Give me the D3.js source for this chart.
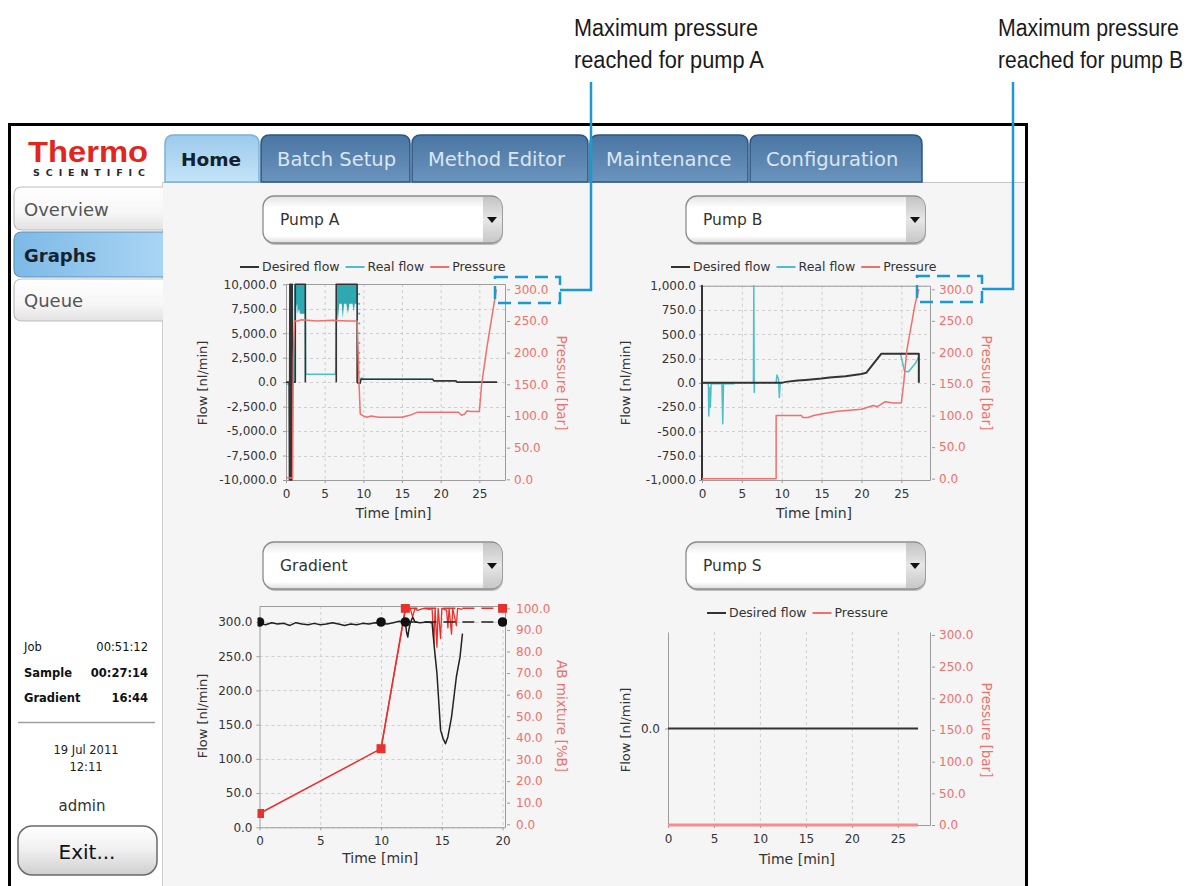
<!DOCTYPE html>
<html>
<head>
<meta charset="utf-8">
<script src="https://cdn.jsdelivr.net/npm/d3@7"></script>
<style>
html, body { margin: 0; padding: 0; background: #fff; }
svg { display: block; font-family: "DejaVu Sans", "Noto Sans", sans-serif; }
</style>
</head>
<body>
<svg id="chart" width="1188" height="886"></svg>
<script>
const svg = d3.select("#chart");
const defs = svg.append("defs");

// ---- texts of the screen ----
const tabNames = ["Home", "Batch Setup", "Method Editor", "Maintenance", "Configuration"];
const navItems = ["Overview", "Graphs", "Queue"];
const statusRows = [["Job", "00:51:12"], ["Sample", "00:27:14"], ["Gradient", "16:44"]];
const dateLines = ["19 Jul 2011", "12:11"];
const userName = "admin";
const exitLabel = "Exit...";
const dropdownNames = ["Pump A", "Pump B", "Gradient", "Pump S"];
const noteA = ["Maximum pressure", "reached for pump A"];
const noteB = ["Maximum pressure", "reached for pump B"];

// ---- tick values ----
const flowTicksA = [-10000, -7500, -5000, -2500, 0, 2500, 5000, 7500, 10000];
const flowTicksB = [-1000, -750, -500, -250, 0, 250, 500, 750, 1000];
const flowTicksS = [0];
const pressureTicks = [0, 50, 100, 150, 200, 250, 300];
const gradFlowTicks = [0, 50, 100, 150, 200, 250, 300];
const gradMixTicks = [0, 10, 20, 30, 40, 50, 60, 70, 80, 90, 100];
const timeTicksPump = [0, 5, 10, 15, 20, 25];
const timeTicksGrad = [0, 5, 10, 15, 20];

// ---- Pump A [time min, value] ----
const pumpADesired = [[0, 0], [0.4, 0], [0.45, -10000], [0.5, 10000], [0.55, -10000], [0.6, 10000],
  [0.65, -10000], [0.7, 10000], [0.75, -10000], [0.8, 10000], [0.85, 0], [1.2, 0], [1.2, 10000],
  [2.5, 10000], [2.5, 0], null, [6.5, 0], [6.5, 10000], [9.2, 10000], [9.2, 0], [9.3, -100],
  [9.6, -100], [9.7, 300], [19, 300], [19.1, 130], [22, 130], [22.1, 0], [27.3, 0]];
const pumpAReal = [[0, -200], [0.4, -200], [0.45, 0], [1.1, 0], [1.15, 10000], null,
  [2.5, 7000], [2.55, 800], [6.4, 800], [6.45, 1700], [6.55, 10000], null,
  [9.5, 300], [9.8, 420], [10.2, 300], [19, 300]];
const pumpARealBlock1 = [[1.15, 7000], [1.3, 7000], [1.35, 7800], [1.45, 8000], [1.5, 7000],
  [1.7, 7500], [1.8, 7000], [2.5, 7000]];
const pumpARealBlock2 = [[6.55, 8000], [6.7, 6200], [6.9, 8000], [7.2, 8000], [7.35, 6500],
  [7.5, 8000], [7.8, 8000], [8.0, 7000], [8.2, 8000], [8.6, 8000], [8.75, 7200], [8.9, 8000], [9.2, 8000]];
const pumpARealDots = [[9.45, 9000], [9.45, 8000], [9.46, 7000], [9.47, 6000], [9.47, 5000],
  [9.48, 4000], [9.48, 3000], [9.49, 2000], [9.5, 1000]];
const pumpAPressure = [[0, 3], [0.5, 2], [0.85, 2], [0.95, 190], [1.1, 250], [1.5, 250], [2, 252],
  [4, 250], [6, 251], [8, 250], [9.2, 250], [9.3, 212], [9.45, 150], [9.6, 103], [10, 100],
  [10.5, 98], [11, 100], [12, 98], [13, 98], [14, 98], [15, 98], [16, 101], [17, 106], [18, 106],
  [20, 106], [22.3, 106], [22.7, 101], [23.1, 103], [23.4, 108], [24, 107], [25, 107], [25.3, 150],
  [26, 210], [26.6, 255], [27.2, 300]];

// ---- Pump B ----
const pumpBDesired = [[0, -1000], [0, 1000], [0, 0], [10, 0], [10.5, 10], [12, 24], [13, 30],
  [15, 45], [16, 55], [18, 68], [20, 92], [20.6, 103], [22.5, 300], [27.2, 300], [27.2, 0]];
const pumpBReal = [[0, 0], [0.8, -10], [0.85, -340], [0.95, -50], [1.05, -250], [1.15, -10],
  [2.5, -10], [2.6, -420], [2.7, -10], [4.1, -10], null, [6.45, 0], [6.5, 1000], [6.55, -100],
  [6.6, 0], null, [9.3, 0], [9.4, 80], [9.6, 40], [9.7, -150], [9.8, 0], [10, 0], null,
  [24.9, 300], [25.4, 120], [25.9, 115], [26.8, 205], [27.2, 270]];
const pumpBPressure = [[0, 0], [9.3, 0], [9.3, 100], [12.5, 100], [12.6, 97], [13.3, 97], [14, 100],
  [15.5, 103.5], [17, 107], [20, 110], [21.5, 116], [22, 114], [23, 122], [24, 120], [25, 120],
  [25.3, 151], [25.7, 204], [26.3, 246], [26.7, 275], [27.2, 300]];

// ---- Gradient ----
const gradFlowProgram = [[0, 300], [10, 300], [12, 300], [20, 300]];
const gradMixProgram = [[0, 5], [10, 35], [12, 100], [20, 100]];
const gradFlowActual = [[0, 298], [0.5, 296], [1, 299], [1.5, 297], [2, 298], [2.5, 295], [3, 299],
  [3.5, 297], [4, 296], [4.5, 298], [5, 296], [5.5, 297], [6, 299], [6.5, 297], [7, 295], [7.5, 297],
  [8, 296], [8.5, 298], [9, 297], [9.5, 299], [10, 298], [10.5, 297], [11, 299], [11.5, 301],
  [12, 299], [12.1, 285], [12.2, 278], [12.3, 290], [12.4, 298], [12.6, 307], [12.8, 300],
  [13.2, 299], [13.8, 300], [14.2, 299], [14.4, 260], [14.6, 225], [14.9, 142], [15.1, 130],
  [15.3, 122], [15.5, 132], [15.8, 161], [16.2, 220], [16.5, 249], [16.7, 283]];
const gradMixActual = [[10, 35], [12, 99], [12.4, 100], [12.6, 96], [12.8, 100], [13, 99],
  [13.5, 100], [14, 99.5], [14.2, 100], [14.35, 84], [14.45, 100], [14.6, 82], [14.7, 100],
  [14.9, 86], [15, 100], [15.4, 99], [15.5, 91], [15.6, 100], [15.8, 88], [15.9, 100],
  [16.2, 92], [16.3, 100], [16.7, 99.5]];

// ---- Pump S ----
const pumpSDesired = [[0, 0], [27.2, 0]];
const pumpSPressure = [[0, 0], [27.2, 0]];

const fmt = d3.formatLocale({ decimal: ".", thousands: ",", grouping: [3], currency: ["", ""], minus: "-" });
const f1 = fmt.format(",.1f");

const C = {
  black: "#333333",
  cyan: "#4cbfcb",
  teal: "#2ea8b3",
  red: "#f0706b",
  redStrong: "#e8302c",
  tick: "#333333",
  grid: "#cfcfcf",
  blue: "#1b9ad2"
};

function gradient(id, stops, vertical = true) {
  const g = defs.append("linearGradient").attr("id", id)
    .attr("x1", 0).attr("y1", 0).attr("x2", vertical ? 0 : 1).attr("y2", vertical ? 1 : 0);
  stops.forEach(s => g.append("stop").attr("offset", s[0]).attr("stop-color", s[1]));
}
gradient("tabDark", [[0, "#4a76a3"], [1, "#6b94bd"]]);
gradient("tabHome", [[0, "#9ccbec"], [1, "#c4e3f8"]]);
gradient("navBtn", [[0, "#ffffff"], [0.6, "#f6f6f6"], [1, "#e2e2e2"]]);
gradient("navSel", [[0, "#7db9e6"], [1, "#a9d5f4"]], false);
gradient("ddFill", [[0, "#e4e4e4"], [0.25, "#ffffff"], [0.85, "#ffffff"], [1, "#dcdcdc"]]);
gradient("ddKnob", [[0, "#c4c4c4"], [0.5, "#e6e6e6"], [1, "#c8c8c8"]]);
gradient("exitFill", [[0, "#ffffff"], [0.5, "#efefef"], [1, "#cfcfcf"]]);

// ---- frame and panels ----
svg.append("rect").attr("x", 0).attr("y", 0).attr("width", 1188).attr("height", 886).attr("fill", "#fff");
svg.append("rect").attr("x", 162).attr("y", 182).attr("width", 863).attr("height", 704).attr("fill", "#f5f5f5");
svg.append("line").attr("x1", 162).attr("x2", 1025).attr("y1", 182.5).attr("y2", 182.5).attr("stroke", "#c4c4c4");
svg.append("line").attr("x1", 162.5).attr("x2", 162.5).attr("y1", 182).attr("y2", 886).attr("stroke", "#cfcfcf");
svg.append("path").attr("d", "M9.5,886 V124.5 H1026.5 V886")
  .attr("fill", "none").attr("stroke", "#000").attr("stroke-width", 3);

// ---- logo ----
svg.append("text").attr("x", 28).attr("y", 162).text("Thermo")
  .attr("font-family", "Liberation Sans, Arial, sans-serif").attr("font-weight", "bold")
  .attr("font-size", 30).attr("fill", "#e3261d").attr("textLength", 120).attr("lengthAdjust", "spacingAndGlyphs");
svg.append("text").attr("x", 33).attr("y", 176).text("SCIENTIFIC")
  .attr("font-family", "DejaVu Sans, sans-serif").attr("font-weight", "bold")
  .attr("font-size", 9.5).attr("fill", "#2a2a2a").attr("textLength", 112).attr("lengthAdjust", "spacing");

// ---- tabs ----
const tabSpans = [[165, 259], [261, 410], [412, 588], [590, 748], [750, 922]];
function tabPath(x0, x1, y0, y1, r) {
  return `M${x0},${y1} V${y0 + r} Q${x0},${y0} ${x0 + r},${y0} H${x1 - r} Q${x1},${y0} ${x1},${y0 + r} V${y1} Z`;
}
tabNames.forEach((name, i) => {
  const [x0, x1] = tabSpans[i];
  const home = i === 0;
  svg.append("path").attr("d", tabPath(x0, x1, 135, 182, 9))
    .attr("fill", home ? "url(#tabHome)" : "url(#tabDark)")
    .attr("stroke", home ? "#7fb0d6" : "#2d5783").attr("stroke-width", 1.5);
  svg.append("text").attr("x", x0 + 16).attr("y", 166).text(name)
    .attr("font-size", home ? 18.5 : 19.5)
    .attr("font-weight", home ? "bold" : "normal")
    .attr("fill", home ? "#14202c" : "#dbe6f1");
});

// ---- sidebar ----
const navSpans = [[187, 230], [232, 277], [279, 321]];
navItems.forEach((name, i) => {
  const [y0, y1] = navSpans[i];
  const sel = name === "Graphs";
  svg.append("path")
    .attr("d", `M163,${y0} H22 Q14,${y0} 14,${y0 + 8} V${y1 - 8} Q14,${y1} 22,${y1} H163`)
    .attr("fill", sel ? "url(#navSel)" : "url(#navBtn)")
    .attr("stroke", sel ? "#5c94c2" : "#bdbdbd").attr("stroke-width", 1.2);
  svg.append("text").attr("x", 24).attr("y", (y0 + y1) / 2 + 7).text(name)
    .attr("font-size", 18).attr("font-weight", sel ? "bold" : "normal")
    .attr("fill", sel ? "#15222e" : "#555");
});

statusRows.forEach((row, i) => {
  const y = 651 + i * 25.5;
  const bold = i > 0 ? "bold" : "normal";
  svg.append("text").attr("x", 24).attr("y", y).text(row[0])
    .attr("font-size", 11.5).attr("font-weight", bold).attr("fill", "#111");
  svg.append("text").attr("x", 148).attr("y", y).attr("text-anchor", "end").text(row[1])
    .attr("font-size", 11.5).attr("font-weight", bold).attr("fill", "#111");
});
svg.append("line").attr("x1", 18).attr("x2", 155).attr("y1", 722.5).attr("y2", 722.5)
  .attr("stroke", "#a0a0a0").attr("stroke-width", 1.5);
dateLines.forEach((t, i) => {
  svg.append("text").attr("x", 86).attr("y", 754 + i * 17).attr("text-anchor", "middle")
    .text(t).attr("font-size", 11.5).attr("fill", "#222");
});
svg.append("text").attr("x", 82).attr("y", 811).attr("text-anchor", "middle")
  .text(userName).attr("font-size", 15).attr("fill", "#333");
svg.append("rect").attr("x", 18).attr("y", 826).attr("width", 139).attr("height", 49).attr("rx", 14)
  .attr("fill", "url(#exitFill)").attr("stroke", "#6a6a6a").attr("stroke-width", 1.5);
svg.append("text").attr("x", 87).attr("y", 859).attr("text-anchor", "middle")
  .text(exitLabel).attr("font-size", 20).attr("fill", "#111");

// ---- dropdowns ----
const ddPos = [[263, 196], [686, 196], [263, 542], [686, 542]];
dropdownNames.forEach((name, i) => {
  const [x, y] = ddPos[i];
  const w = 239, h = 47;
  svg.append("rect").attr("x", x + 1).attr("y", y + 2).attr("width", w).attr("height", h).attr("rx", 11)
    .attr("fill", "#bdbdbd");
  svg.append("rect").attr("x", x).attr("y", y).attr("width", w).attr("height", h).attr("rx", 11)
    .attr("fill", "url(#ddFill)").attr("stroke", "#8c8c8c").attr("stroke-width", 1.3);
  const kx = x + w - 19;
  svg.append("path")
    .attr("d", `M${kx},${y + 1} H${x + w - 11} Q${x + w},${y + 1} ${x + w},${y + 12} V${y + h - 12} Q${x + w},${y + h - 1} ${x + w - 11},${y + h - 1} H${kx} Z`)
    .attr("fill", "url(#ddKnob)");
  svg.append("path")
    .attr("d", `M${kx + 4},${y + 21} H${kx + 14} L${kx + 9},${y + 27} Z`).attr("fill", "#111");
  svg.append("text").attr("x", x + 17).attr("y", y + 29).text(name)
    .attr("font-size", 15.5).attr("fill", "#333");
});

// ---- charts ----
function drawChart(c) {
  const g = svg.append("g");
  const x = d3.scaleLinear().domain([0, c.tMax]).range([c.left, c.right]);
  const yL = d3.scaleLinear().domain(c.flowDomain).range(c.flowRange);
  const yR = d3.scaleLinear().domain(c.rightDomain).range(c.rightRange);

  const clipId = c.id + "-clip";
  defs.append("clipPath").attr("id", clipId).append("rect")
    .attr("x", c.left - 2).attr("y", c.top - 2)
    .attr("width", c.right - c.left + 4).attr("height", c.bottom - c.top + 4);

  // grid
  g.selectAll(".vg").data(c.timeTicks.filter(t => t > 0)).join("line")
    .attr("x1", d => x(d) + 0.5).attr("x2", d => x(d) + 0.5)
    .attr("y1", c.top).attr("y2", c.bottom)
    .attr("stroke", C.grid).attr("stroke-dasharray", "3,3");
  if (c.hGrid) {
    g.selectAll(".hg").data(c.flowTicks).join("line")
      .attr("x1", c.left).attr("x2", c.right)
      .attr("y1", d => Math.round(yL(d)) + 0.5).attr("y2", d => Math.round(yL(d)) + 0.5)
      .attr("stroke", C.grid).attr("stroke-dasharray", "3,3");
  }

  // plot frame
  const L = c.left + 0.5, R = c.right + 0.5, T = c.top + 0.5, B = c.bottom + 0.5;
  g.append("path")
    .attr("d", c.openTop ? `M${L},${T} V${B} H${R} V${T}` : `M${L},${T} V${B} H${R} V${T} Z`)
    .attr("fill", "none").attr("stroke", "#9c9c9c");

  // axes
  const styleAxis = (sel, color) => {
    sel.select(".domain").remove();
    sel.selectAll(".tick line").attr("stroke", "#9c9c9c");
    sel.selectAll(".tick text").attr("fill", color).attr("font-size", 12)
      .attr("font-family", "DejaVu Sans, sans-serif");
  };
  g.append("g").attr("transform", `translate(${c.left},0)`)
    .call(d3.axisLeft(yL).tickValues(c.flowTicks).tickFormat(f1).tickSize(3).tickPadding(c.lPad))
    .call(s => styleAxis(s, C.tick));
  g.append("g").attr("transform", `translate(${c.right + 2},0)`)
    .call(d3.axisRight(yR).tickValues(c.rightTicks).tickFormat(f1).tickSize(3).tickPadding(c.rPad))
    .call(s => styleAxis(s, c.rightColor));
  g.append("g").attr("transform", `translate(0,${c.bottom})`)
    .call(d3.axisBottom(x).tickValues(c.timeTicks).tickFormat(d3.format("d")).tickSize(3).tickPadding(6))
    .call(s => styleAxis(s, C.tick));

  // labels
  g.append("text").attr("transform", `translate(${c.flowLabelX},${c.labelY}) rotate(-90)`)
    .attr("text-anchor", "middle").attr("dy", "0.35em").text("Flow [nl/min]")
    .attr("font-size", 13).attr("fill", "#333");
  g.append("text").attr("transform", `translate(${c.rightLabelX},${c.labelY}) rotate(90)`)
    .attr("text-anchor", "middle").attr("dy", "0.35em").text(c.rightLabel)
    .attr("font-size", 13.5).attr("fill", c.rightColor);
  g.append("text").attr("x", (c.left + c.right) / 2 - 2).attr("y", c.timeLabelY)
    .attr("text-anchor", "middle").attr("dy", "0.35em").text("Time [min]")
    .attr("font-size", 14).attr("fill", "#333");

  // series
  const plot = g.append("g").attr("clip-path", `url(#${clipId})`);
  c.series.forEach(s => {
    const y = s.axis === "R" ? yR : yL;
    if (s.type === "area") {
      plot.append("path").datum(s.data)
        .attr("d", d3.area().x(d => x(d[0])).y0(y(s.base)).y1(d => y(d[1])))
        .attr("fill", s.color);
    } else if (s.type === "dots") {
      plot.selectAll(null).data(s.data).join("circle")
        .attr("cx", d => x(d[0])).attr("cy", d => y(d[1])).attr("r", 1.1).attr("fill", s.color);
    } else if (s.type === "squares") {
      plot.selectAll(null).data(s.data).join("rect")
        .attr("x", d => x(d[0]) - 4.5).attr("y", d => y(d[1]) - 4.5)
        .attr("width", 9).attr("height", 9).attr("fill", s.color);
    } else if (s.type === "circles") {
      plot.selectAll(null).data(s.data).join("circle")
        .attr("cx", d => x(d[0])).attr("cy", d => y(d[1])).attr("r", 4.8).attr("fill", s.color);
    } else {
      plot.append("path").datum(s.data)
        .attr("d", d3.line().defined(d => d).x(d => x(d[0])).y(d => y(d[1])))
        .attr("fill", "none").attr("stroke", s.color).attr("stroke-width", s.width || 1.5)
        .attr("stroke-dasharray", s.dash || null).attr("stroke-linejoin", "round");
    }
  });

  // legend
  if (c.legend) {
    const lg = g.append("g");
    let cx = c.legend.x;
    c.legend.items.forEach(it => {
      lg.append("line").attr("x1", cx).attr("x2", cx + 19).attr("y1", c.legend.y).attr("y2", c.legend.y)
        .attr("stroke", it.color).attr("stroke-width", 2);
      const t = lg.append("text").attr("x", cx + 22).attr("y", c.legend.y).attr("dy", "0.35em")
        .text(it.label).attr("font-size", 12.5).attr("fill", "#333");
      cx += 22 + t.node().getComputedTextLength() + 6;
    });
  }
}

const legendPump = [
  { label: "Desired flow", color: C.black },
  { label: "Real flow", color: C.cyan },
  { label: "Pressure", color: C.red }
];

drawChart({
  id: "pa", left: 286, right: 505, top: 284, bottom: 480, tMax: 28.32,
  flowDomain: [-10000, 10000], flowRange: [480, 284.3], flowTicks: flowTicksA, hGrid: true,
  rightDomain: [0, 300], rightRange: [479.3, 289.3], rightTicks: pressureTicks,
  rightLabel: "Pressure [bar]", rightColor: C.red,
  timeTicks: timeTicksPump, lPad: 6, rPad: 4,
  flowLabelX: 202, rightLabelX: 562, labelY: 383, timeLabelY: 513,
  legend: { x: 240, y: 267, items: legendPump },
  series: [
    { type: "area", data: pumpARealBlock1, base: 10000, color: C.teal },
    { type: "area", data: pumpARealBlock2, base: 10000, color: C.teal },
    { data: pumpAReal, color: C.cyan, width: 1.5 },
    { type: "dots", data: pumpARealDots, color: C.cyan },
    { data: pumpADesired, color: C.black, width: 1.6 },
    { data: pumpAPressure, axis: "R", color: C.red, width: 1.5 }
  ]
});

drawChart({
  id: "pb", left: 702, right: 930, top: 285.7, bottom: 480, tMax: 28.6,
  flowDomain: [-1000, 1000], flowRange: [480, 285.7], flowTicks: flowTicksB, hGrid: true,
  rightDomain: [0, 300], rightRange: [478.7, 289.3], rightTicks: pressureTicks,
  rightLabel: "Pressure [bar]", rightColor: C.red,
  timeTicks: timeTicksPump, lPad: 3, rPad: 4,
  flowLabelX: 625, rightLabelX: 987, labelY: 383, timeLabelY: 513,
  legend: { x: 671, y: 267, items: legendPump },
  series: [
    { data: pumpBReal, color: C.cyan, width: 1.5 },
    { data: pumpBDesired, color: C.black, width: 2 },
    { data: pumpBPressure, axis: "R", color: C.red, width: 1.5 }
  ]
});

drawChart({
  id: "gr", left: 259.5, right: 505, top: 606, bottom: 827.3, tMax: 20.2,
  flowDomain: [0, 300], flowRange: [827.3, 622], flowTicks: gradFlowTicks, hGrid: true,
  rightDomain: [0, 100], rightRange: [824.3, 608.3], rightTicks: gradMixTicks,
  rightLabel: "AB mixture [%B]", rightColor: C.red,
  timeTicks: timeTicksGrad, lPad: 4, rPad: 6,
  flowLabelX: 202, rightLabelX: 562, labelY: 716, timeLabelY: 858,
  legend: null,
  series: [
    { data: gradMixProgram.slice(0, 3), axis: "R", color: C.redStrong, width: 1.5 },
    { data: gradMixProgram.slice(2), axis: "R", color: C.redStrong, width: 1.5, dash: "12,7" },
    { data: gradMixActual, axis: "R", color: C.redStrong, width: 1.3 },
    { data: gradFlowProgram.slice(2), color: "#222", width: 1.5, dash: "12,7" },
    { data: gradFlowActual, color: "#222", width: 1.5 },
    { type: "squares", data: gradMixProgram, axis: "R", color: C.redStrong },
    { type: "circles", data: gradFlowProgram, color: "#111" }
  ]
});

drawChart({
  id: "ps", left: 668, right: 930, top: 632, bottom: 825, tMax: 28.5, openTop: true,
  flowDomain: [-1, 1], flowRange: [825, 632], flowTicks: flowTicksS, hGrid: false,
  rightDomain: [0, 300], rightRange: [825, 635], rightTicks: pressureTicks,
  rightLabel: "Pressure [bar]", rightColor: C.red,
  timeTicks: timeTicksPump, lPad: 5, rPad: 4,
  flowLabelX: 625, rightLabelX: 987, labelY: 730, timeLabelY: 859,
  legend: { x: 707, y: 613, items: [legendPump[0], legendPump[2]] },
  series: [
    { data: pumpSPressure, axis: "R", color: "#f58c8a", width: 3 },
    { data: pumpSDesired, color: C.black, width: 1.8 }
  ]
});

// ---- call-outs ----
function callout(lines, tx, widths, lineX, lineY, box) {
  lines.forEach((t, i) => {
    const el = svg.append("text").attr("x", 0).attr("y", 0).text(t)
      .attr("font-family", "Liberation Sans Narrow, Liberation Sans, Arial, sans-serif")
      .attr("font-size", 23).attr("fill", "#1a1a1a");
    const k = widths[i] / el.node().getComputedTextLength();
    el.attr("transform", `translate(${tx},${36 + i * 32}) scale(${k},1)`);
  });
  svg.append("path").attr("d", `M${lineX},82 V${lineY} H${box[0] + box[2]}`)
    .attr("fill", "none").attr("stroke", C.blue).attr("stroke-width", 2.5);
  svg.append("rect").attr("x", box[0]).attr("y", box[1]).attr("width", box[2]).attr("height", box[3])
    .attr("fill", "none").attr("stroke", C.blue).attr("stroke-width", 2.5)
    .attr("stroke-dasharray", "13,7");
}
callout(noteA, 574, [184, 190], 591, 290, [495, 277, 65, 26]);
callout(noteB, 998, [181, 185], 1013, 289, [917, 276, 65, 26]);
</script>
</body>
</html>
